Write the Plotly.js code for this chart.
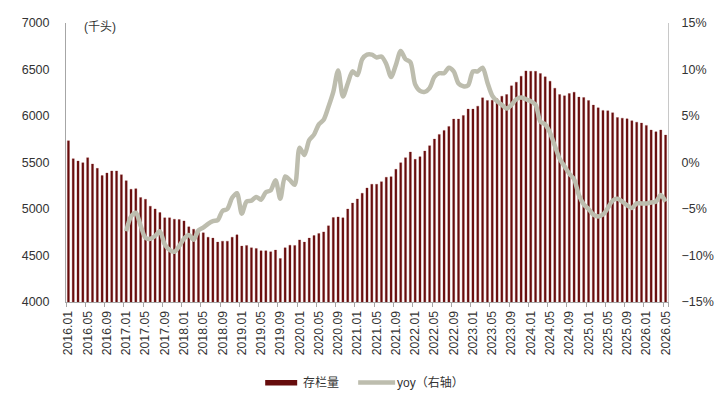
<!DOCTYPE html>
<html>
<head>
<meta charset="utf-8">
<script src="https://cdn.plot.ly/plotly-3.0.1.min.js"></script>
<style>
html,body{margin:0;padding:0;background:#fff;}
#chart{width:724px;height:401px;}
</style>
</head>
<body>
<div id="chart"></div>
<script>
// Month categories
var months = [
"2016.01","2016.02","2016.03","2016.04","2016.05","2016.06","2016.07","2016.08","2016.09","2016.10","2016.11","2016.12",
"2017.01","2017.02","2017.03","2017.04","2017.05","2017.06","2017.07","2017.08","2017.09","2017.10","2017.11","2017.12",
"2018.01","2018.02","2018.03","2018.04","2018.05","2018.06","2018.07","2018.08","2018.09","2018.10","2018.11","2018.12",
"2019.01","2019.02","2019.03","2019.04","2019.05","2019.06","2019.07","2019.08","2019.09","2019.10","2019.11","2019.12",
"2020.01","2020.02","2020.03","2020.04","2020.05","2020.06","2020.07","2020.08","2020.09","2020.10","2020.11","2020.12",
"2021.01","2021.02","2021.03","2021.04","2021.05","2021.06","2021.07","2021.08","2021.09","2021.10","2021.11","2021.12",
"2022.01","2022.02","2022.03","2022.04","2022.05","2022.06","2022.07","2022.08","2022.09","2022.10","2022.11","2022.12",
"2023.01","2023.02","2023.03","2023.04","2023.05","2023.06","2023.07","2023.08","2023.09","2023.10","2023.11","2023.12",
"2024.01","2024.02","2024.03","2024.04","2024.05","2024.06","2024.07","2024.08","2024.09","2024.10","2024.11","2024.12",
"2025.01","2025.02","2025.03","2025.04","2025.05","2025.06","2025.07","2025.08","2025.09","2025.10","2025.11","2025.12",
"2026.01","2026.02","2026.03","2026.04","2026.05"
];

// 存栏量 (千头)
var stock = [
5734,5541,5516,5498,5552,5484,5437,5359,5387,5409,5409,5369,
5305,5212,5219,5123,5105,5030,5001,4962,4905,4905,4890,4887,
4872,4808,4783,4747,4744,4697,4687,4644,4654,4654,4697,4722,
4601,4608,4583,4576,4551,4551,4540,4558,4468,4583,4611,4608,
4668,4644,4687,4715,4737,4754,4819,4908,4915,4905,5000,5064,
5108,5169,5226,5266,5266,5294,5341,5348,5427,5498,5552,5613,
5534,5563,5623,5681,5752,5802,5845,5888,5967,5967,6006,6074,
6074,6106,6195,6167,6170,6185,6213,6231,6324,6364,6428,6485,
6481,6481,6457,6421,6374,6299,6231,6217,6242,6256,6203,6199,
6167,6117,6088,6060,6056,6035,5984,5977,5970,5949,5934,5924,
5899,5849,5831,5849,5795
];

// yoy (%), from 2017.01
var yoyMonths = months.slice(12);
var yoy = [
-7.4,-5.8,-5.4,-6.8,-8.1,-8.2,-7.9,-7.4,-8.8,-9.4,-9.6,-9.0,
-8.2,-7.8,-8.3,-7.3,-7.0,-6.6,-6.3,-6.2,-5.2,-5.0,-3.8,-3.3,
-5.5,-4.2,-4.1,-3.7,-4.0,-3.2,-3.0,-1.9,-3.9,-1.5,-1.9,-2.4,
1.6,0.8,2.4,3.0,4.1,4.6,6.0,7.6,9.9,7.1,8.5,9.8,
9.4,11.1,11.6,11.6,11.3,11.4,10.6,9.2,10.5,12.0,11.1,10.8,
8.4,7.7,7.6,8.0,9.2,9.6,9.6,10.2,9.8,8.5,8.2,8.3,
9.8,9.8,10.2,8.6,7.2,6.6,6.2,5.8,6.2,6.8,7.0,6.8,
6.6,6.2,4.4,4.1,3.2,1.8,0.4,-0.4,-1.2,-1.8,-3.5,-4.5,
-5.0,-5.6,-5.8,-5.6,-4.9,-4.1,-3.9,-4.2,-4.6,-4.9,-4.4,-4.4,
-4.4,-4.3,-4.2,-3.5,-4.2
];

var tickLabels = months.filter(function(m, i){ return i % 4 === 0; });

var barColor = '#660C0C';
var lineColor = '#BDBDAE';
var fontFam = "Arial, 'Liberation Sans', 'Noto Sans CJK SC', sans-serif";

var traces = [
  {
    type: 'bar', name: '存栏量', x: months, y: stock,
    marker: {color: barColor, line: {color: '#8A3030', width: 0.3}}, showlegend: false
  },
  {
    type: 'scatter', mode: 'lines', name: 'yoy（右轴）', x: yoyMonths, y: yoy,
    yaxis: 'y2', line: {color: lineColor, width: 4.5, shape: 'spline', smoothing: 0.8},
    showlegend: false
  }
];

var L = 65.7, R = 668, T = 22.7, B = 302.3;
function px(x){ return (x - L) / (R - L); }
function py(y){ return (B - y) / (B - T); }

var layout = {
  width: 724, height: 401,
  margin: {l: L, r: 724 - R, t: T, b: 401 - B, pad: 0},
  paper_bgcolor: '#fff', plot_bgcolor: '#fff',
  font: {family: fontFam, size: 12, color: '#333'},
  bargap: 0.56,
  showlegend: false,
  xaxis: {
    type: 'category', tickmode: 'array', tickvals: tickLabels, ticktext: tickLabels,
    tickangle: -90, ticks: 'outside', ticklen: 4, tickcolor: '#A6A6A6',
    tickson: 'boundaries', showline: true, linecolor: '#A6A6A6', linewidth: 1,
    showgrid: false, zeroline: false, tickfont: {size: 12.3, color: '#333'},
    ticklabelstandoff: 3,
    range: [-0.5, months.length - 0.5], fixedrange: true
  },
  yaxis: {
    range: [4000, 7000], dtick: 500, tick0: 4000, showgrid: false, zeroline: false,
    showline: true, linecolor: '#A6A6A6', linewidth: 1, ticks: '',
    ticklabelstandoff: 13, tickfont: {size: 12.5, color: '#333'}
  },
  yaxis2: {
    overlaying: 'y', side: 'right', range: [-15, 15], dtick: 5, tick0: -15,
    ticksuffix: '%', showgrid: false, zeroline: false,
    showline: true, linecolor: '#C8C8C8', linewidth: 1, ticks: '',
    ticklabelstandoff: 10, tickfont: {size: 12.5, color: '#333'}
  },
  annotations: [
    {xref: 'paper', yref: 'paper', x: px(82), y: py(27), xanchor: 'left', yanchor: 'middle',
     text: '(千头)', showarrow: false, font: {size: 12, color: '#333'}},
    {xref: 'paper', yref: 'paper', x: px(301), y: py(383), xanchor: 'left', yanchor: 'middle',
     text: '存栏量', showarrow: false, font: {size: 12, color: '#333'}},
    {xref: 'paper', yref: 'paper', x: px(395), y: py(383), xanchor: 'left', yanchor: 'middle',
     text: 'yoy（右轴）', showarrow: false, font: {size: 12, color: '#333'}}
  ],
  shapes: [
    {type: 'rect', xref: 'paper', yref: 'paper', x0: px(265), x1: px(297), y0: py(380.5), y1: py(386),
     fillcolor: barColor, line: {width: 0}},
    {type: 'line', xref: 'paper', yref: 'paper', x0: px(358), x1: px(395), y0: py(383), y1: py(383),
     line: {color: lineColor, width: 4.5}}
  ]
};

Plotly.newPlot('chart', traces, layout, {displayModeBar: false, staticPlot: true});
</script>
</body>
</html>
